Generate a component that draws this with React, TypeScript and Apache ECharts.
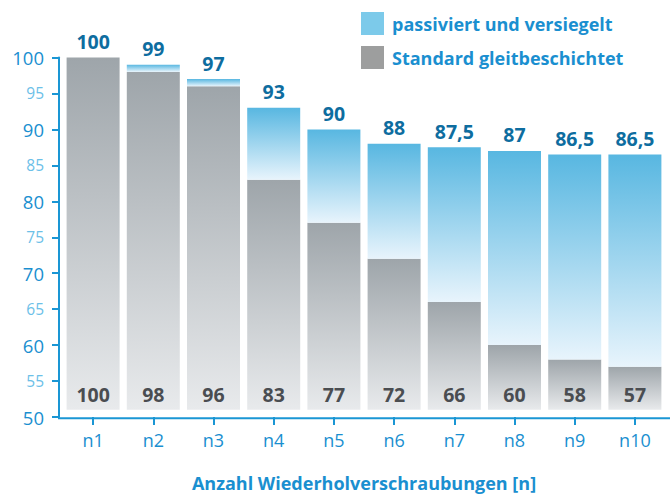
import React, { useEffect, useRef } from "react";
import * as echarts from "echarts";

const categories = ["n1", "n2", "n3", "n4", "n5", "n6", "n7", "n8", "n9", "n10"];
const passiviert = [100, 99, 97, 93, 90, 88, 87.5, 87, 86.5, 86.5];
const standard = [100, 98, 96, 83, 77, 72, 66, 60, 58, 57];
const seriesNames = ["passiviert und versiegelt", "Standard gleitbeschichtet"];
const yMin = 50;
const yMax = 100;
const yStep = 5;
const barFloor = 51;
const xAxisTitle = "Anzahl Wiederholverschraubungen [n]";

const FONT = "Open Sans";
const BLUE_TEXT = "#1a8fd0";
const HEAVY = "bold";

const fmt = (v: number) => String(v).replace(".", ",");

export default function App() {
  const ref = useRef<HTMLDivElement>(null);
  useEffect(() => {
    if (!ref.current) return;
    const chart = echarts.init(ref.current, null, { renderer: "svg" });
    const option: any = {
      animation: false,
      backgroundColor: "#ffffff",
      textStyle: { fontFamily: FONT },
      grid: { left: 63, right: 5, top: 57.5, bottom: 78.7, containLabel: false },
      legend: {
        orient: "vertical",
        left: 361,
        top: 12,
        padding: 0,
        itemWidth: 23,
        itemHeight: 23,
        itemGap: 11,
        icon: "rect",
        selectedMode: false,
        textStyle: { fontFamily: FONT, fontSize: 18, fontWeight: HEAVY, color: BLUE_TEXT, padding: [0, 0, 0, 3] },
        data: [
          { name: seriesNames[0], itemStyle: { color: "#7ccaea" } },
          { name: seriesNames[1], itemStyle: { color: "#9d9e9e" } },
        ],
      },
      xAxis: {
        type: "category",
        data: categories,
        name: xAxisTitle,
        nameLocation: "middle",
        nameGap: 57,
        nameTextStyle: { fontFamily: FONT, fontSize: 18, fontWeight: HEAVY, color: BLUE_TEXT },
        axisLine: { show: false },
        axisTick: { show: true, alignWithLabel: true, length: 8, lineStyle: { color: "#1a96d4", width: 2 } },
        axisLabel: { fontFamily: FONT, fontSize: 18, color: BLUE_TEXT, margin: 14 },
        splitLine: { show: false },
      },
      yAxis: {
        type: "value",
        min: yMin,
        max: yMax,
        interval: yStep,
        offset: 4,
        axisLine: { show: true, lineStyle: { color: "#1a96d4", width: 2 } },
        axisTick: { show: true, length: 7, lineStyle: { color: "#1a96d4", width: 2 } },
        splitLine: { show: false },
        axisLabel: {
          margin: 15,
          formatter: (v: number) => (v % 10 === 0 ? `{maj|${v}}` : `{min|${v}}`),
          rich: {
            maj: { fontFamily: FONT, fontSize: 18.5, color: BLUE_TEXT },
            min: { fontFamily: FONT, fontSize: 15.5, color: "#6cc0e8" },
          },
        },
      },
      graphic: [
        {
          type: "line",
          shape: { x1: 58, y1: 418.3, x2: 670, y2: 418.3 },
          style: { stroke: "#1a96d4", lineWidth: 2 },
          z: 10,
        },
      ],
      series: [
        {
          name: "base",
          type: "bar",
          stack: "s",
          barWidth: 53,
          silent: true,
          itemStyle: { color: "rgba(0,0,0,0)" },
          data: categories.map(() => barFloor),
        },
        {
          name: seriesNames[1],
          type: "bar",
          stack: "s",
          barWidth: 53,
          itemStyle: {
            color: {
              type: "linear",
              x: 0, y: 0, x2: 0, y2: 1,
              colorStops: [
                { offset: 0, color: "#9ea5aa" },
                { offset: 1, color: "#e8eaec" },
              ],
            },
          },
          label: {
            show: true,
            position: "insideBottom",
            distance: 5,
            fontFamily: FONT,
            fontSize: 19.5,
            fontWeight: HEAVY,
            color: "#4a4d51",
            formatter: (p: any) => fmt(standard[p.dataIndex]),
          },
          data: standard.map((v) => v - barFloor),
        },
        {
          name: seriesNames[0],
          type: "bar",
          stack: "s",
          barWidth: 53,
          itemStyle: {
            color: {
              type: "linear",
              x: 0, y: 0, x2: 0, y2: 1,
              colorStops: [
                { offset: 0, color: "#58b7e1" },
                { offset: 1, color: "#e8f4fc" },
              ],
            },
          },
          label: {
            show: true,
            position: "top",
            distance: 6,
            fontFamily: FONT,
            fontSize: 19.5,
            fontWeight: HEAVY,
            color: "#0e6d9f",
            formatter: (p: any) => fmt(passiviert[p.dataIndex]),
          },
          data: passiviert.map((v, i) => v - standard[i]),
        },
      ],
    };
    chart.setOption(option);
    return () => chart.dispose();
  }, []);
  return (
    <div
      ref={ref}
      style={{ position: "fixed", left: 0, top: 0, width: 670, height: 497, background: "#fff" }}
    />
  );
}
